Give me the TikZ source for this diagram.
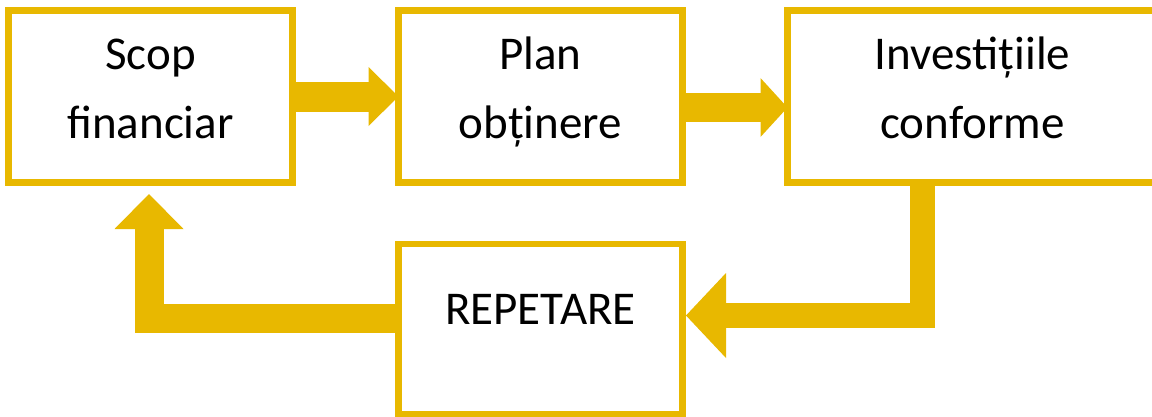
\documentclass[tikz,border=0pt]{standalone}
\usepackage{fontspec}
\setmainfont{Carlito}
\usetikzlibrary{
arrows.meta,
positioning
}
\definecolor{auriu}{HTML}{E8B800}
\newcommand{\strutsus}{\rule{0pt}{40pt}}
\newcommand{\strutjos}{\rule[-25pt]{0pt}{25pt}}

\begin{document}
\begin{tikzpicture}
[x=1pt, y=1pt,
block_normal/.style ={rectangle, draw=auriu, line width=6.5pt, fill=white, align=center, minimum width=284pt, minimum height=172pt, outer sep=0pt, font=\fontsize{47}{69}\selectfont},
block_wide/.style ={block_normal, minimum width=370pt},
line_first/.style ={draw=auriu, line width=30pt, -{Triangle[width=59pt,length=30pt,line width=0pt]}},
line_second/.style ={draw=auriu, line width=29pt, -{Triangle[width=59pt,length=27pt,line width=0pt]}},
line_back/.style ={draw=auriu, line width=25pt, line join=miter, -{Triangle[width=85pt,length=40pt,line width=0pt]}},
line_up/.style ={draw=auriu, line width=29pt, line join=miter, -{Triangle[width=69pt,length=35pt,line width=0pt]}}
]

\useasboundingbox (0,0) rectangle (1152,-416);

%Blocuri
\node [block_normal] (scop) at (150.5,-96.5) {\strutsus Scop\\financiar\strutjos};
\node [block_normal, right=106pt of scop] (plan) {\strutsus Plan\\obținere\strutjos};
\node [block_wide, right=105pt of plan] (invest) {\strutsus Investițiile\\conforme\strutjos};
\node [block_normal, below=61.5pt of plan, minimum height=170pt] (repet) {\rule{0pt}{40pt}REPETARE\rule[-50pt]{0pt}{50pt}};

%Sageti proces
 \draw [line_first] (scop.east) -- (plan.west);
 \draw [line_second] ([yshift=-11pt]plan.east) -- ([yshift=-11pt]invest.west);

%Sageti inapoi
 \draw [line_back, shorten >=3.5pt] ([xshift=-50.5pt]invest.south) |- ([yshift=13.5pt]repet.east);
 \draw [line_up, shorten >=11.5pt] ([yshift=10.5pt]repet.west) -| ([xshift=-1.5pt]scop.south);

\end{tikzpicture}
\end{document}
